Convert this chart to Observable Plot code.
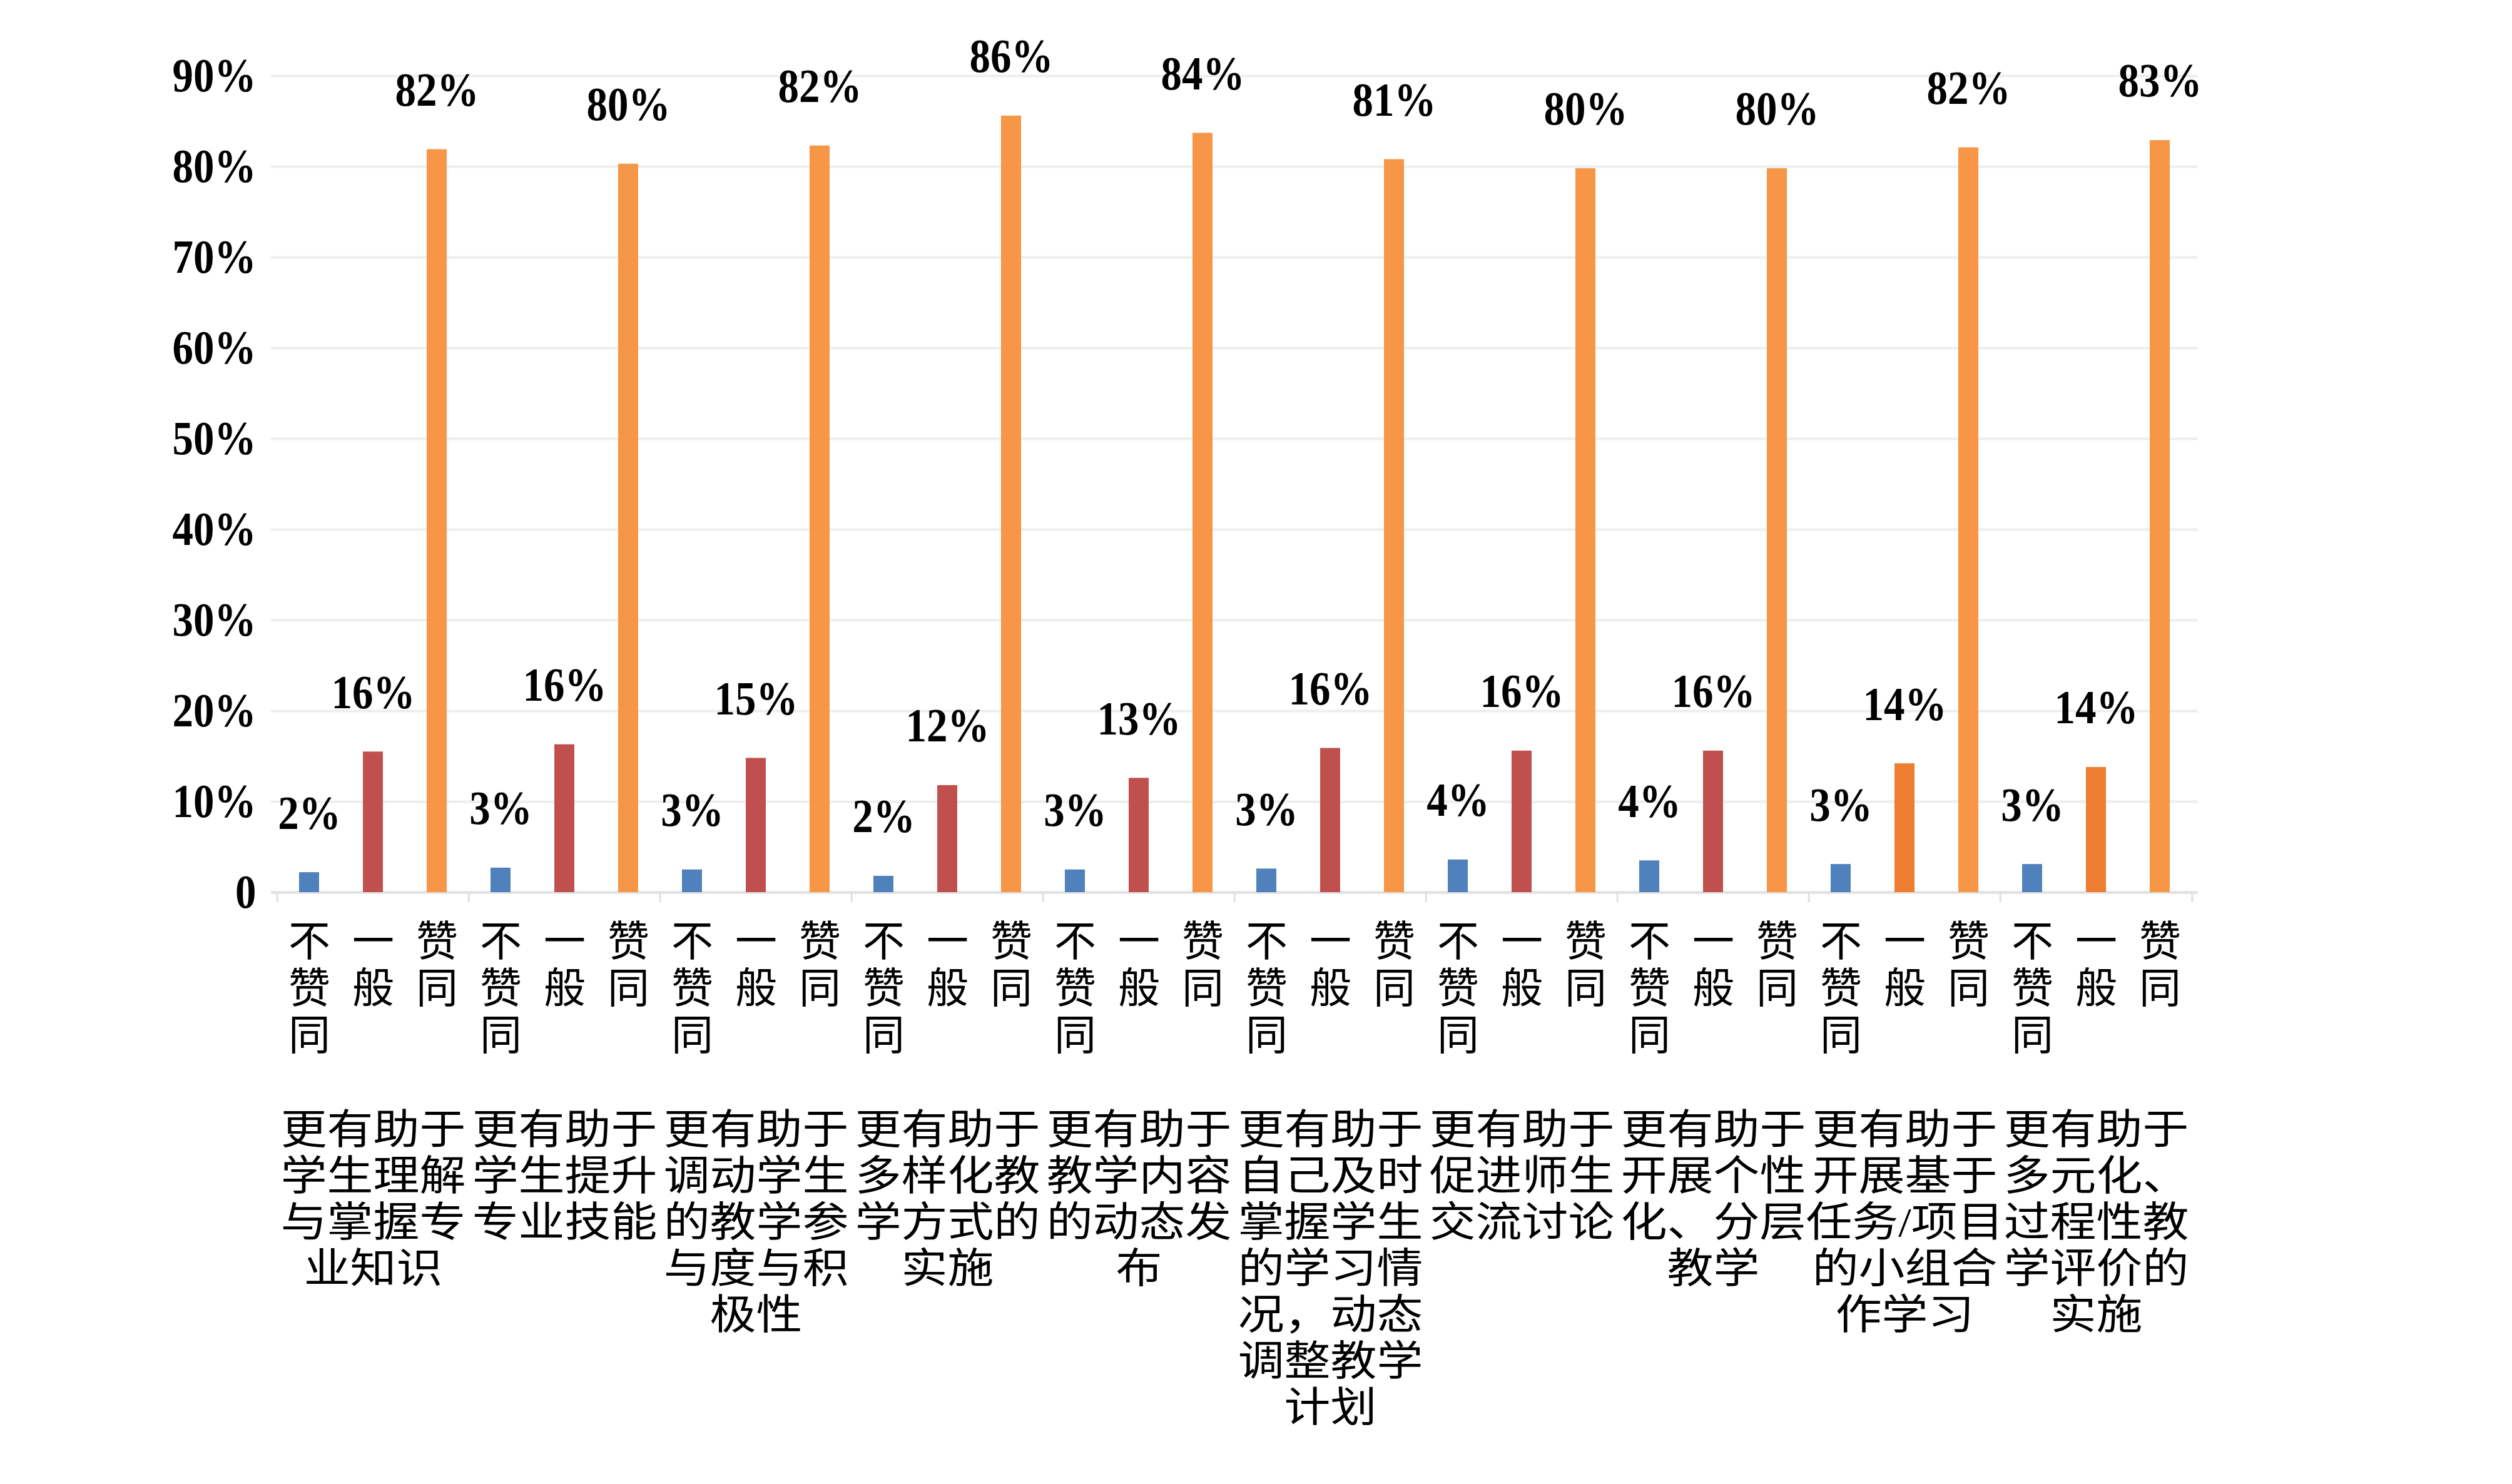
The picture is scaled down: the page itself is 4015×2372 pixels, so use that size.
<!DOCTYPE html>
<html lang="zh-CN">
<head>
<meta charset="utf-8">
<script src="https://cdn.jsdelivr.net/npm/d3@7"></script>
<script src="https://cdn.jsdelivr.net/npm/@observablehq/plot@0.6"></script>
<style>
  html, body { margin: 0; padding: 0; background: #ffffff; }
  #chart svg { display: block; }
</style>
</head>
<body>
<div id="chart"></div>
<script>
// ---- data ----
const groups = [
  "更有助于\n学生理解\n与掌握专\n业知识",
  "更有助于\n学生提升\n专业技能",
  "更有助于\n调动学生\n的教学参\n与度与积\n极性",
  "更有助于\n多样化教\n学方式的\n实施",
  "更有助于\n教学内容\n的动态发\n布",
  "更有助于\n自己及时\n掌握学生\n的学习情\n况，动态\n调整教学\n计划",
  "更有助于\n促进师生\n交流讨论",
  "更有助于\n开展个性\n化、分层\n教学",
  "更有助于\n开展基于\n任务/项目\n的小组合\n作学习",
  "更有助于\n多元化、\n过程性教\n学评价的\n实施"
];
const levels = ["不赞同", "一般", "赞同"];
const disagree = [2.2, 2.7, 2.5, 1.8, 2.5, 2.6, 3.6, 3.5, 3.1, 3.1];
const neutral  = [15.5, 16.3, 14.8, 11.8, 12.6, 15.9, 15.6, 15.6, 14.2, 13.8];
const agree    = [81.9, 80.3, 82.3, 85.6, 83.7, 80.8, 79.8, 79.8, 82.1, 82.9];
const yTicks = [0, 10, 20, 30, 40, 50, 60, 70, 80, 90];

// ---- table built from the arrays ----
const series = [disagree, neutral, agree];
const rows = groups.flatMap((g, i) =>
  levels.map((lv, j) => ({ key: i + "-" + j, gi: i, li: j, level: lv, value: series[j][i] }))
);
const keys = rows.map(d => d.key);

const W = 4015, H = 2372;
const mL = 433, mR = 502, mT = 121, mB = 946;
const step = (W - mL - mR) / keys.length;

const colors = ["#4F81BD", "#C0504D", "#F79646"];
const fillOf = d => (d.li === 1 && d.gi >= 8) ? "#ED7D31" : colors[d.li];

const serif = "'Liberation Serif', 'Times New Roman', serif";
const cjk = "'Liberation Serif', 'Noto Sans CJK SC', sans-serif";

const boundaries = [
  ...groups.map((g, i) => ({ key: i + "-0", side: -1 })),
  { key: (groups.length - 1) + "-2", side: 1 }
];

const chart = Plot.plot({
  width: W,
  height: H,
  marginLeft: mL,
  marginRight: mR,
  marginTop: mT,
  marginBottom: mB,
  style: { background: "#ffffff", color: "#000000" },
  x: { type: "band", domain: keys, paddingInner: 0.69, paddingOuter: 0.345, axis: null },
  y: { domain: [0, 90], axis: null },
  marks: [
    Plot.gridY(yTicks, { stroke: "#EEEEEE", strokeOpacity: 1, strokeWidth: 4 }),
    Plot.ruleY([0], { stroke: "#E0E0E0", strokeWidth: 4 }),
    ...boundaries.map(b =>
      Plot.ruleX([b], { x: "key", dx: b.side * step / 2, y1: 0, y2: 0, insetBottom: -16, stroke: "#E0E0E0", strokeWidth: 3 })
    ),
    Plot.axisY({
      ticks: yTicks,
      label: null,
      tickSize: 0,
      tickPadding: 24,
      tickFormat: d => d === 0 ? "0" : d + "%",
      fontSize: 67,
      fontWeight: "bold",
      fontFamily: serif
    }),
    Plot.barY(rows, { x: "key", y: "value", fill: fillOf }),
    // 1st text mark: value labels
    Plot.text(rows, {
      x: "key", y: "value",
      text: d => Math.round(d.value) + "%",
      lineAnchor: "bottom",
      dy: -70,
      fontSize: 67,
      fontWeight: "bold",
      fontFamily: serif
    }),
    // 2nd text mark: level labels (vertical)
    Plot.text(rows, {
      x: "key",
      text: d => d.level.split("").join("\n"),
      frameAnchor: "bottom",
      lineAnchor: "top",
      dy: 48,
      fontSize: 67,
      lineHeight: 1.12,
      fontFamily: cjk
    }),
    // 3rd text mark: group labels
    Plot.text(groups, {
      x: (d, i) => i + "-1",
      text: d => d,
      frameAnchor: "bottom",
      lineAnchor: "top",
      dy: 349,
      fontSize: 66,
      lineHeight: 1.121,
      fontFamily: cjk
    })
  ]
});

// Reference glyph proportions: digits taller, Chinese group labels wider
function stretch(group, sx, sy) {
  if (!group) return;
  group.querySelectorAll("text").forEach(t => {
    const tr = t.getAttribute("transform");
    if (tr) t.setAttribute("transform", tr + ` scale(${sx},${sy})`);
  });
}
const textGroups = chart.querySelectorAll('g[aria-label="text"]');
stretch(textGroups[0], 1, 1.15);
stretch(textGroups[2], 1.12, 1);
stretch(chart.querySelector('g[aria-label="y-axis tick label"]'), 1, 1.15);

document.getElementById("chart").appendChild(chart);
</script>
</body>
</html>
